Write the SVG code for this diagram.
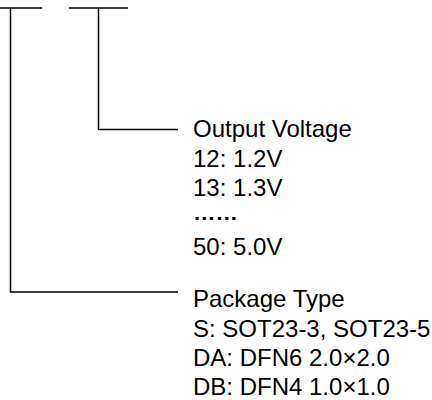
<svg xmlns="http://www.w3.org/2000/svg" width="432" height="400" viewBox="0 0 432 400">
<style>
.ln{stroke:#000;stroke-width:1.5;fill:none}
text{font-family:"Liberation Sans",Arial,sans-serif;font-size:24px;fill:#000}
.dots{font-size:20px;font-weight:bold}
</style>
<rect width="432" height="400" fill="#fff"/>
<g id="connectors">
<line class="ln" x1="0" y1="8" x2="42" y2="8"/>
<line class="ln" x1="69" y1="8" x2="128" y2="8"/>
<polyline class="ln" points="98.5,8 98.5,129.5 178,129.5"/>
<polyline class="ln" points="10.5,8 10.5,292 178,292"/>
</g>
<g id="output-voltage">
<text x="193" y="137">Output Voltage</text>
<text x="193" y="166.5">12: 1.2V</text>
<text x="193" y="196">13: 1.3V</text>
<text class="dots" x="193" y="220" textLength="45" lengthAdjust="spacingAndGlyphs">……</text>
<text x="193" y="255">50: 5.0V</text>
</g>
<g id="package-type">
<text x="193" y="307">Package Type</text>
<text x="193" y="336.5">S: SOT23-3, SOT23-5</text>
<text x="193" y="366">DA: DFN6 2.0×2.0</text>
<text x="193" y="395">DB: DFN4 1.0×1.0</text>
</g>
</svg>
